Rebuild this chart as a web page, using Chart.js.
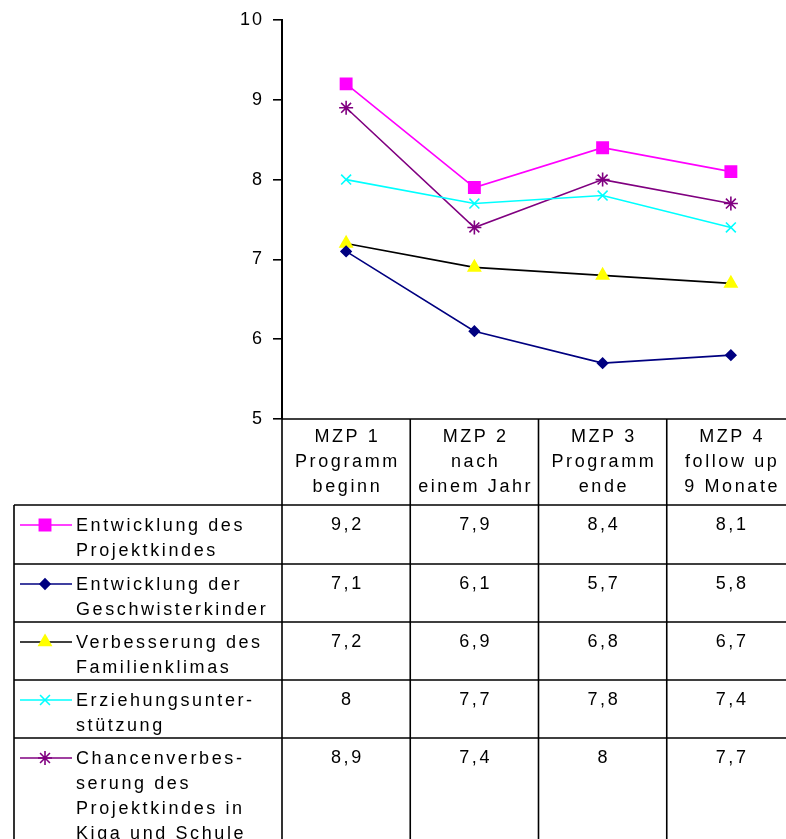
<!DOCTYPE html>
<html lang="de">
<head>
  <meta charset="UTF-8">
  <title>Entwicklung MZP 1-4</title>
  <script src="https://cdn.jsdelivr.net/npm/chart.js"></script>
  <style>
    html, body { margin: 0; padding: 0; background: #fff; overflow: hidden; }
    /* the plot area runs a little past the right edge of the picture */
    #wrap { width: 795px; height: 839px; position: relative; }
    canvas { display: block; }
  </style>
</head>
<body>
  <div id="wrap"><canvas id="chart"></canvas></div>
  <script>
    // Messzeitpunkte (Kopfzeile der Tabelle)
    const categories = [
      ['MZP 1', 'Programm', 'beginn'],
      ['MZP 2', 'nach', 'einem Jahr'],
      ['MZP 3', 'Programm', 'ende'],
      ['MZP 4', 'follow up', '9 Monate']
    ];
    const seriesNames = [
      ['Entwicklung des', 'Projektkindes'],
      ['Entwicklung der', 'Geschwisterkinder'],
      ['Verbesserung des', 'Familienklimas'],
      ['Erziehungsunter-', 'stützung'],
      ['Chancenverbes-', 'serung des', 'Projektkindes in', 'Kiga und Schule']
    ];
    const projektkind = [9.2, 7.9, 8.4, 8.1];
    const geschwister = [7.1, 6.1, 5.7, 5.8];
    const familienklima = [7.2, 6.9, 6.8, 6.7];
    const erziehung = [8, 7.7, 7.8, 7.4];
    const chancen = [8.9, 7.4, 8, 7.7];
    const yTicks = [5, 6, 7, 8, 9, 10];

    const FONT = "Arial, 'Liberation Sans', sans-serif";
    const rowTops = [505, 564, 622, 680, 738];

    const fmt = v => String(v).replace('.', ',');

    const datasets = [
      { label: seriesNames[0].join(' '), data: projektkind, borderColor: '#FF00FF', backgroundColor: '#FF00FF',
        pointBorderColor: '#FF00FF', pointStyle: 'rect', pointRadius: 8 },
      { label: seriesNames[1].join(' '), data: geschwister, borderColor: '#000080', backgroundColor: '#000080',
        pointBorderColor: '#000080', pointStyle: 'rectRot', pointRadius: 5 },
      { label: seriesNames[2].join(' '), data: familienklima, borderColor: '#000000', backgroundColor: '#FFFF00',
        pointBorderColor: '#FFFF00', pointStyle: 'triangle', pointRadius: 7 },
      { label: seriesNames[3].join(' '), data: erziehung, borderColor: '#00FFFF', backgroundColor: '#00FFFF',
        pointBorderColor: '#00FFFF', pointStyle: 'crossRot', pointRadius: 7 },
      { label: seriesNames[4].join(' '), data: chancen, borderColor: '#800080', backgroundColor: '#800080',
        pointBorderColor: '#800080', pointStyle: 'star', pointRadius: 7 }
    ];
    datasets.forEach(d => {
      d.borderWidth = 1.6;
      d.pointBorderWidth = 1.6;
      d.pointHoverRadius = d.pointRadius;
      d.tension = 0;
    });

    function drawMarker(ctx, ds, x, y) {
      const opts = { pointStyle: ds.pointStyle, radius: ds.pointRadius, borderWidth: ds.pointBorderWidth, rotation: 0 };
      ctx.save();
      ctx.fillStyle = ds.backgroundColor;
      ctx.strokeStyle = ds.pointBorderColor;
      ctx.lineWidth = ds.pointBorderWidth;
      Chart.helpers.drawPoint(ctx, opts, x, y);
      ctx.restore();
    }

    // Datentabelle unter dem Diagramm
    const tablePlugin = {
      id: 'dataTable',
      beforeDraw(chart) {
        chart.ctx.letterSpacing = '2px';
      },
      afterDraw(chart) {
        const ctx = chart.ctx;
        const area = chart.chartArea;
        const xs = chart.scales.x;
        const n = categories.length;
        const centers = categories.map((c, i) => xs.getPixelForValue(i));
        const edges = [area.left];
        for (let i = 0; i < n - 1; i++) edges.push((centers[i] + centers[i + 1]) / 2);
        edges.push(area.right);
        const left = 14, bottom = chart.height;

        ctx.save();
        ctx.strokeStyle = '#000';
        ctx.lineWidth = 1.6;
        ctx.beginPath();
        ctx.moveTo(area.left, area.bottom); ctx.lineTo(area.right, area.bottom);
        rowTops.forEach(y => { ctx.moveTo(left, y); ctx.lineTo(area.right, y); });
        ctx.moveTo(left, rowTops[0]); ctx.lineTo(left, bottom);
        edges.slice(0, n).forEach(x => { ctx.moveTo(x, area.bottom); ctx.lineTo(x, bottom); });
        ctx.stroke();

        ctx.fillStyle = '#000';
        ctx.font = '18px ' + FONT;
        ctx.letterSpacing = '2.6px';
        ctx.textBaseline = 'middle';

        // Kopfzeile
        ctx.textAlign = 'center';
        categories.forEach((lines, i) => {
          lines.forEach((t, j) => ctx.fillText(t, centers[i] + 1.3, area.bottom + 18 + j * 25));
        });

        // Zeilen
        datasets.forEach((ds, r) => {
          const yc = rowTops[r] + 20;
          ctx.textAlign = 'center';
          ds.data.forEach((v, i) => ctx.fillText(fmt(v), centers[i] + 1.3, yc));
          ctx.textAlign = 'left';
          seriesNames[r].forEach((t, j) => ctx.fillText(t, 76, yc + 1 + j * 25));
          ctx.save();
          ctx.strokeStyle = ds.borderColor;
          ctx.lineWidth = ds.borderWidth;
          ctx.beginPath();
          ctx.moveTo(20, yc); ctx.lineTo(72, yc);
          ctx.stroke();
          ctx.restore();
          drawMarker(ctx, ds, 45, yc);
        });
        ctx.restore();
      }
    };

    new Chart(document.getElementById('chart'), {
      type: 'line',
      data: { labels: categories.map(c => c[0]), datasets },
      options: {
        responsive: true,
        maintainAspectRatio: false,
        animation: false,
        layout: { autoPadding: false, padding: { top: 20, left: 0, right: 0, bottom: 420 } },
        plugins: { legend: { display: false }, tooltip: { enabled: false } },
        scales: {
          x: { display: false, offset: true },
          y: {
            min: 5, max: 10,
            afterFit(scale) { scale.width = 282; },
            afterBuildTicks(scale) { scale.ticks = yTicks.map(v => ({ value: v })); },
            border: { display: true, color: '#000', width: 2 },
            grid: { drawOnChartArea: false, drawTicks: true, tickLength: 9, color: '#000', lineWidth: 1.6 },
            ticks: { color: '#000', padding: 9, font: { family: FONT, size: 18 } }
          }
        }
      },
      plugins: [tablePlugin]
    });
  </script>
</body>
</html>
